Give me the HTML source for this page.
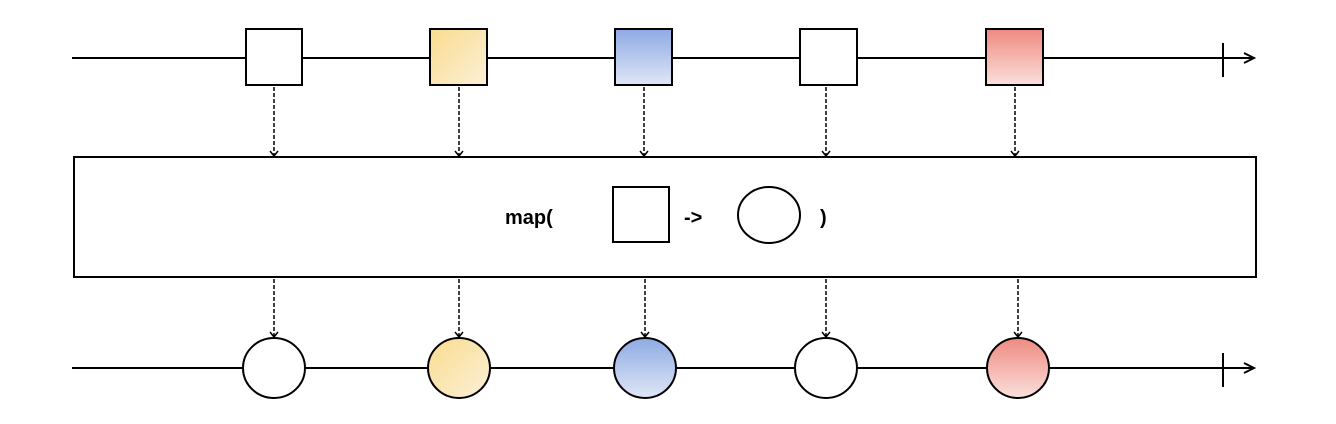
<!DOCTYPE html>
<html><head><style>body{margin:0;background:#fff}svg{display:block}</style></head><body>
<svg width="1336" height="424" xmlns="http://www.w3.org/2000/svg" font-family="Liberation Sans, sans-serif">
<defs>
<linearGradient id="y" x1="0" y1="0" x2="1" y2="1"><stop offset="0" stop-color="#f9dc8e"/><stop offset="1" stop-color="#fcf0d8"/></linearGradient>
<linearGradient id="b" x1="0" y1="0" x2="0" y2="1"><stop offset="0" stop-color="#8eaae3"/><stop offset="1" stop-color="#dfe6f7"/></linearGradient>
<linearGradient id="r" x1="0" y1="0" x2="0" y2="1"><stop offset="0" stop-color="#ee8a80"/><stop offset="1" stop-color="#fbe0dc"/></linearGradient>
<marker id="a" markerWidth="10" markerHeight="10" refX="5" refY="8" orient="0" markerUnits="userSpaceOnUse"><path d="M1,3 L5,8 L9,3" fill="none" stroke="#000" stroke-width="1.5"/></marker>
</defs>
<g stroke="#000" stroke-width="2">
<line x1="72" y1="58" x2="1252" y2="58"/><path d="M1244,53 L1254,58 L1244,63" fill="none"/>
<line x1="1223" y1="43" x2="1223" y2="77"/>
<line x1="72" y1="368" x2="1252" y2="368"/><path d="M1244,363 L1254,368 L1244,373" fill="none"/>
<line x1="1223" y1="353" x2="1223" y2="387"/>
<rect x="246" y="29" width="56" height="56" fill="#fff"/>
<rect x="430" y="29" width="57" height="56" fill="url(#y)"/>
<rect x="615" y="29" width="57" height="56" fill="url(#b)"/>
<rect x="800" y="29" width="57" height="56" fill="#fff"/>
<rect x="986" y="29" width="57" height="56" fill="url(#r)"/>
<rect x="74" y="157" width="1182" height="120" fill="#fff"/>
<rect x="613" y="187" width="56" height="55" fill="#fff"/>
<ellipse cx="769" cy="215" rx="31" ry="28" fill="#fff"/>
<ellipse cx="274" cy="368" rx="31" ry="30" fill="#fff"/>
<ellipse cx="459" cy="368" rx="31" ry="30" fill="url(#y)"/>
<ellipse cx="645" cy="368" rx="31" ry="30" fill="url(#b)"/>
<ellipse cx="826" cy="368" rx="31" ry="30" fill="#fff"/>
<ellipse cx="1018" cy="368" rx="31" ry="30" fill="url(#r)"/>
</g>
<g stroke="#000" stroke-width="1.5" stroke-dasharray="4,2" marker-end="url(#a)">
<line x1="274" y1="87" x2="274" y2="156"/><line x1="459" y1="87" x2="459" y2="156"/><line x1="644" y1="87" x2="644" y2="156"/><line x1="826" y1="87" x2="826" y2="156"/><line x1="1015" y1="87" x2="1015" y2="156"/>
<line x1="274" y1="279" x2="274" y2="337"/><line x1="459" y1="279" x2="459" y2="337"/><line x1="645" y1="279" x2="645" y2="337"/><line x1="826" y1="279" x2="826" y2="337"/><line x1="1018" y1="279" x2="1018" y2="337"/>
</g>
<g font-weight="bold" font-size="20" fill="#000">
<text x="505" y="224">map(</text>
<text x="684" y="224">-&gt;</text>
<text x="820" y="224">)</text>
</g>
</svg>
</body></html>
